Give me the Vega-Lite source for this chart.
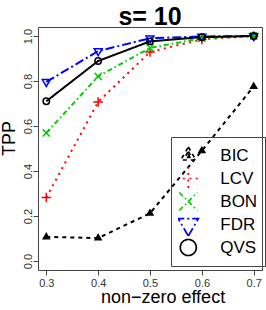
{
  "$schema": "https://vega.github.io/schema/vega-lite/v6.json",
  "width": 224,
  "height": 243,
  "autosize": {"type": "none"},
  "padding": {"left": 38, "top": 27, "right": 4, "bottom": 40},
  "background": "white",
  "title": {"text": "s= 10", "fontSize": 25, "fontWeight": "bold", "font": "Liberation Sans", "anchor": "middle", "offset": -3, "color": "black"},
  "config": {
    "view": {"stroke": "#444", "strokeWidth": 1},
    "axis": {"grid": false, "domain": false, "tickColor": "#444", "tickSize": 5, "labelFont": "Liberation Sans", "labelFontSize": 11, "labelColor": "#333", "titleFont": "Liberation Sans", "titleFontSize": 18, "titleFontWeight": "normal", "titleColor": "black"}
  },
  "data": {"values": [
    {"method": "BIC", "effect": 0.3, "tpp": 0.107},
    {"method": "BIC", "effect": 0.4, "tpp": 0.102},
    {"method": "BIC", "effect": 0.5, "tpp": 0.212},
    {"method": "BIC", "effect": 0.6, "tpp": 0.49},
    {"method": "BIC", "effect": 0.7, "tpp": 0.776},
    {"method": "LCV", "effect": 0.3, "tpp": 0.282},
    {"method": "LCV", "effect": 0.4, "tpp": 0.707},
    {"method": "LCV", "effect": 0.5, "tpp": 0.929},
    {"method": "LCV", "effect": 0.6, "tpp": 0.985},
    {"method": "LCV", "effect": 0.7, "tpp": 1.0},
    {"method": "BON", "effect": 0.3, "tpp": 0.569},
    {"method": "BON", "effect": 0.4, "tpp": 0.821},
    {"method": "BON", "effect": 0.5, "tpp": 0.947},
    {"method": "BON", "effect": 0.6, "tpp": 0.99},
    {"method": "BON", "effect": 0.7, "tpp": 1.0},
    {"method": "FDR", "effect": 0.3, "tpp": 0.796},
    {"method": "FDR", "effect": 0.4, "tpp": 0.933},
    {"method": "FDR", "effect": 0.5, "tpp": 0.99},
    {"method": "FDR", "effect": 0.6, "tpp": 0.998},
    {"method": "FDR", "effect": 0.7, "tpp": 1.0},
    {"method": "QVS", "effect": 0.3, "tpp": 0.71},
    {"method": "QVS", "effect": 0.4, "tpp": 0.889},
    {"method": "QVS", "effect": 0.5, "tpp": 0.976},
    {"method": "QVS", "effect": 0.6, "tpp": 0.995},
    {"method": "QVS", "effect": 0.7, "tpp": 1.0}
  ]},
  "encoding": {
    "x": {"field": "effect", "type": "quantitative", "scale": {"domain": [0.284, 0.716], "nice": false, "zero": false},
      "axis": {"values": [0.3, 0.4, 0.5, 0.6, 0.7], "format": ".1f", "labelPadding": 2, "title": "non−zero effect", "titleX": 124.5, "titleY": 32.5, "titleAlign": "center", "titleBaseline": "alphabetic"}},
    "y": {"field": "tpp", "type": "quantitative", "scale": {"domain": [-0.04, 1.04], "nice": false, "zero": false},
      "axis": {"values": [0, 0.2, 0.4, 0.6, 0.8, 1.0], "format": ".1f", "labelAngle": 270, "labelAlign": "center", "labelBaseline": "alphabetic", "labelPadding": 1.5, "title": "TPP", "titleAngle": 270, "titleX": -29, "titleY": 111, "titleAlign": "center", "titleBaseline": "middle"}},
    "color": {"field": "method", "type": "nominal",
      "scale": {"domain": ["BIC", "LCV", "BON", "FDR", "QVS"], "range": ["black", "#FF0000", "#00CD00", "#0000FF", "black"]},
      "legend": {"orient": "none", "legendX": 133, "legendY": 110, "title": null, "padding": 7, "strokeColor": "#444", "symbolSize": 400, "symbolStrokeWidth": 1.7, "symbolOffset": -0.7, "labelOffset": 21, "clipHeight": 23, "rowPadding": 0, "labelFontSize": 17, "labelFont": "Liberation Sans", "labelColor": "black", "symbolFillColor": "transparent",
        "encode": {"symbols": {"update": {
          "shape": {"signal": "datum.value==='BIC' ? 'M-1.5,0H-1.4M-1,0H-0.6M-0.2,0H0.2M0.6,0H1M1.4,0H1.5M0,-0.48L0.46,0.35L-0.46,0.35Z' : datum.value==='LCV' ? 'M-1.5,0H-1.3M-0.8,0H-0.6M-0.1,0H0.1M0.6,0H0.8M1.3,0H1.5M-0.6,0H0.6M0,-0.6V0.6' : datum.value==='BON' ? 'M-1.5,0H-0.95M-0.7,0H-0.55M-0.25,0H0.25M0.55,0H0.7M0.95,0H1.5M-0.42,-0.42L0.42,0.42M-0.42,0.42L0.42,-0.42' : datum.value==='FDR' ? 'M-1.5,0H-0.95M-0.7,0H-0.55M-0.25,0H0.25M0.55,0H0.7M0.95,0H1.5M0,0.48L0.46,-0.35L-0.46,-0.35Z' : 'M-1.5,0H1.5M0.22,0A0.22,0.22,0,1,1,-0.22,0A0.22,0.22,0,1,1,0.22,0'"}
        }}}
      }
    }
  },
  "layer": [
    {
      "mark": {"type": "line", "strokeWidth": 2},
      "encoding": {
        "strokeDash": {"field": "method", "type": "nominal", "legend": null,
          "scale": {"domain": ["BIC", "LCV", "BON", "FDR", "QVS"], "range": [[4, 4], [2, 4.5], [5, 3, 1.5, 3], [9, 3, 2, 3], [1, 0]]}}
      }
    },
    {
      "mark": {"type": "point", "filled": false, "strokeWidth": 1.5, "size": 64, "opacity": 1},
      "encoding": {
        "shape": {"field": "method", "type": "nominal", "legend": null,
          "scale": {"domain": ["BIC", "LCV", "BON", "FDR", "QVS"], "range": ["M0,-0.85L0.75,0.45L-0.75,0.45ZM0,-0.4L0.35,0.2L-0.35,0.2ZM0,-0.1L0.1,0.1L-0.1,0.1Z", "M-1.2,0H1.2M0,-1.2V1.2", "M-0.9,-0.9L0.9,0.9M-0.9,0.9L0.9,-0.9", "M0,1.15L1,-0.58L-1,-0.58Z", "M0.8,0A0.8,0.8,0,1,1,-0.8,0A0.8,0.8,0,1,1,0.8,0"]}}
      }
    }
  ]
}
